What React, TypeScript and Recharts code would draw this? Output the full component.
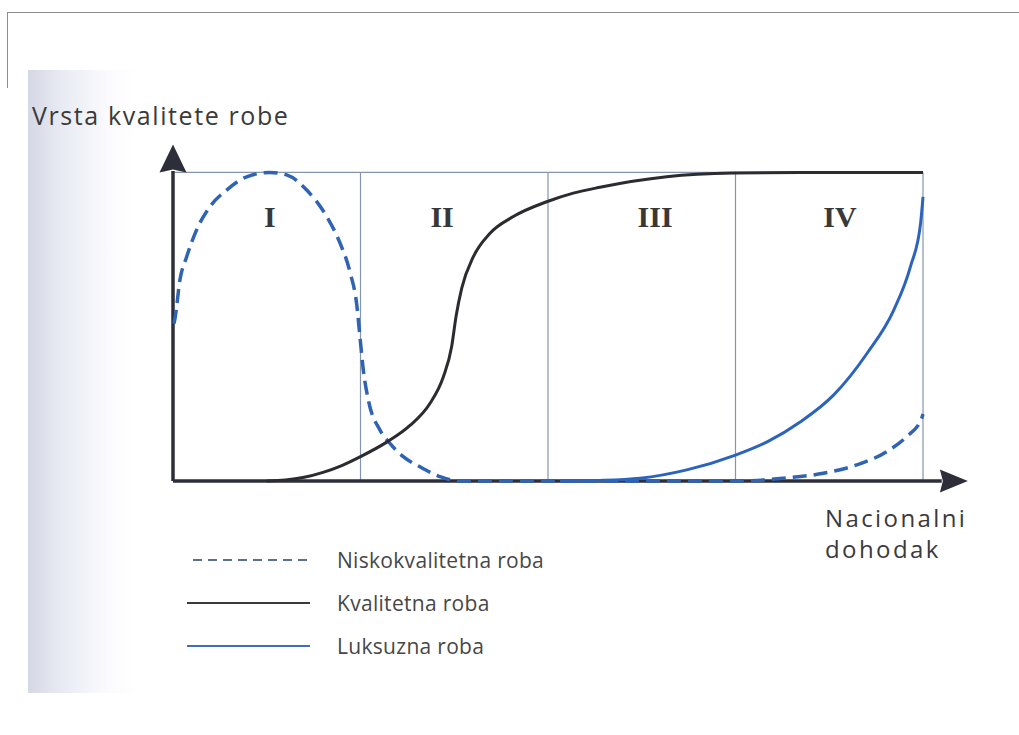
import { LineChart, Line, XAxis, YAxis, ReferenceLine, ReferenceDot, Legend } from 'recharts'

// x: national income (4 stages), y: share of goods quality (0..100)
const lowX = [0.005, 0.011, 0.037, 0.073, 0.126, 0.197, 0.286, 0.393, 0.517, 0.606, 0.713, 0.82, 0.891, 0.944, 0.98, 0.997, 1.015, 1.042, 1.104, 1.157, 1.228, 1.317, 1.424, 1.531, 1.744, 2.4, 3.024, 3.255, 3.468, 3.646, 3.806, 3.913, 3.993, 4.0]
const lowY = [51, 52.8, 65.2, 72.7, 81.4, 88.9, 94.3, 98.6, 100, 99.2, 94.3, 85.7, 77.1, 67.7, 57.1, 46.8, 36, 26.2, 16.5, 12.2, 7.9, 4.6, 1.4, 0, 0, 0, 0, 0.9, 2.5, 5.2, 9.5, 14.4, 20.3, 21.7]

const highX = [0.5, 0.6, 0.7, 0.8, 0.9, 1.0, 1.14, 1.264, 1.371, 1.442, 1.486, 1.51, 1.54, 1.602, 1.691, 1.815, 1.993, 2.135, 2.277, 2.633, 2.987, 3.344, 4.0]
const highY = [0, 0.3, 1.2, 2.8, 5.0, 7.9, 12.6, 18.0, 25.2, 33.8, 43.5, 53.5, 62.5, 72.7, 80.3, 85.7, 90.5, 93.3, 95.2, 98.6, 99.8, 100, 100]

const luxX = [2.064, 2.277, 2.491, 2.74, 3.0, 3.169, 3.347, 3.524, 3.702, 3.844, 3.933, 3.987, 4.0]
const luxY = [0, 0.2, 0.9, 3.6, 8.4, 12.7, 19.2, 27.9, 41.4, 55.4, 69.5, 83.5, 92.1]

const dividerX = [1, 2, 3, 4]
const regionLabels = ['I', 'II', 'III', 'IV']
const regionLabelX = [0.517, 1.435, 2.571, 3.557]
const regionLabelY = 82.2

const seriesNames = ['Niskokvalitetna roba', 'Kvalitetna roba', 'Luksuzna roba']
const yTitle = 'Vrsta kvalitete robe'
const xTitle = ['Nacionalni', 'dohodak']

const toPoints = (xs: number[], ys: number[]) => xs.map((x, i) => ({ x, y: ys[i] }))
const lowData = toPoints(lowX, lowY)
const highData = toPoints(highX, highY)
const luxData = toPoints(luxX, luxY)

const AXIS = '#2c2e3a'
const GRID = '#8496ae'
const DASHED_BLUE = '#2f63b3'
const DARK = '#2b2b30'
const BLUE = '#2c64bd'
const FONT = '"Open Sans", sans-serif'

const legendRows = [
  { name: seriesNames[0], color: '#5a6f92', dash: '9 6' },
  { name: seriesNames[1], color: '#3a3a3a', dash: undefined },
  { name: seriesNames[2], color: '#3f6fb5', dash: undefined },
]

function LegendBox() {
  return (
    <div>
      {legendRows.map(r => (
        <div key={r.name} style={{ display: 'flex', alignItems: 'center', height: 43 }}>
          <svg width={124} height={6} style={{ display: 'block' }}>
            <line x1={r.dash ? 6 : 0} y1={3} x2={123} y2={3} stroke={r.color} strokeWidth={2} strokeDasharray={r.dash} />
          </svg>
          <span style={{ marginLeft: 26, fontFamily: FONT, fontSize: 21, color: '#474747', letterSpacing: 0.3 }}>{r.name}</span>
        </div>
      ))}
    </div>
  )
}

const upArrow = (p: any) => (
  <polygon points={`${p.cx},${p.cy - 28} ${p.cx + 13.5},${p.cy} ${p.cx},${p.cy - 3} ${p.cx - 13.5},${p.cy}`} fill={AXIS} />
)
const rightArrow = (p: any) => (
  <polygon points={`${p.cx + 28},${p.cy} ${p.cx},${p.cy + 11.5} ${p.cx + 3},${p.cy} ${p.cx},${p.cy - 11.5}`} fill={AXIS} />
)

export default function App() {
  return (
    <div style={{ position: 'absolute', left: 0, top: 0, width: 1019, height: 735, background: '#fff', overflow: 'hidden' }}>
      {/* scan frame + shaded page edge */}
      <div style={{ position: 'absolute', left: 8, top: 12, width: 1011, borderTop: '1.5px solid #8c8c8c' }} />
      <div style={{ position: 'absolute', left: 7, top: 12, height: 76, borderLeft: '1.5px solid #8c8c8c' }} />
      <div style={{ position: 'absolute', left: 28, top: 70, width: 991, height: 623, background: 'linear-gradient(to right, #d5d8e5 0px, #e9ebf4 35px, #fbfbfe 80px, #ffffff 110px)' }} />

      <div style={{ position: 'absolute', left: 32, top: 103, fontFamily: FONT, fontSize: 25, lineHeight: '25px', color: '#3a3a3a', letterSpacing: 1.6, whiteSpace: 'nowrap' }}>
        {yTitle}
      </div>
      <div style={{ position: 'absolute', left: 825, top: 502, fontFamily: FONT, fontSize: 24, lineHeight: '31px', color: '#3a3a3a', letterSpacing: 2.4 }}>
        {xTitle.map(t => <div key={t}>{t}</div>)}
      </div>

      <div style={{ position: 'absolute', left: 0, top: 0 }}>
        <LineChart width={1019} height={735} margin={{ top: 144.7, right: 51, bottom: 254, left: 173 }}>
          <XAxis type="number" dataKey="x" domain={[0, 4.24]} hide />
          <YAxis type="number" dataKey="y" domain={[0, 109]} hide />
          <ReferenceLine segment={[{ x: 0, y: 100 }, { x: 4, y: 100 }]} stroke={GRID} strokeWidth={1.2} />
          {dividerX.map(x => (
            <ReferenceLine key={x} segment={[{ x, y: 0 }, { x, y: 100 }]} stroke={GRID} strokeWidth={1.2} />
          ))}
          <ReferenceLine segment={[{ x: 0, y: 0 }, { x: 4.1, y: 0 }]} stroke={AXIS} strokeWidth={3.5} />
          <ReferenceLine segment={[{ x: 0, y: 0 }, { x: 0, y: 100.5 }]} stroke={AXIS} strokeWidth={3.5} />
          <ReferenceDot x={0} y={100} shape={upArrow} ifOverflow="visible" />
          <ReferenceDot x={4.09} y={0} shape={rightArrow} ifOverflow="visible" />
          {regionLabels.map((t, i) => (
            <ReferenceDot key={t} x={regionLabelX[i]} y={regionLabelY}
              shape={(p: any) => (
                <text x={p.cx} y={p.cy} textAnchor="middle" fontFamily='"Liberation Serif", serif' fontWeight="bold" fontSize={30} fill="#383838">{t}</text>
              )} />
          ))}
          <Line data={lowData} dataKey="y" name={seriesNames[0]} type="monotone" stroke={DASHED_BLUE} strokeWidth={3.5} strokeDasharray="14 7" dot={false} isAnimationActive={false} />
          <Line data={highData} dataKey="y" name={seriesNames[1]} type="monotone" stroke={DARK} strokeWidth={3} dot={false} isAnimationActive={false} />
          <Line data={luxData} dataKey="y" name={seriesNames[2]} type="monotone" stroke={BLUE} strokeWidth={3} dot={false} isAnimationActive={false} />
          <Legend layout="vertical" align="center" verticalAlign="middle"
            wrapperStyle={{ position: 'absolute', left: 187, top: 538, width: 440, height: 130 }}
            content={() => <LegendBox />} />
        </LineChart>
      </div>
    </div>
  )
}
